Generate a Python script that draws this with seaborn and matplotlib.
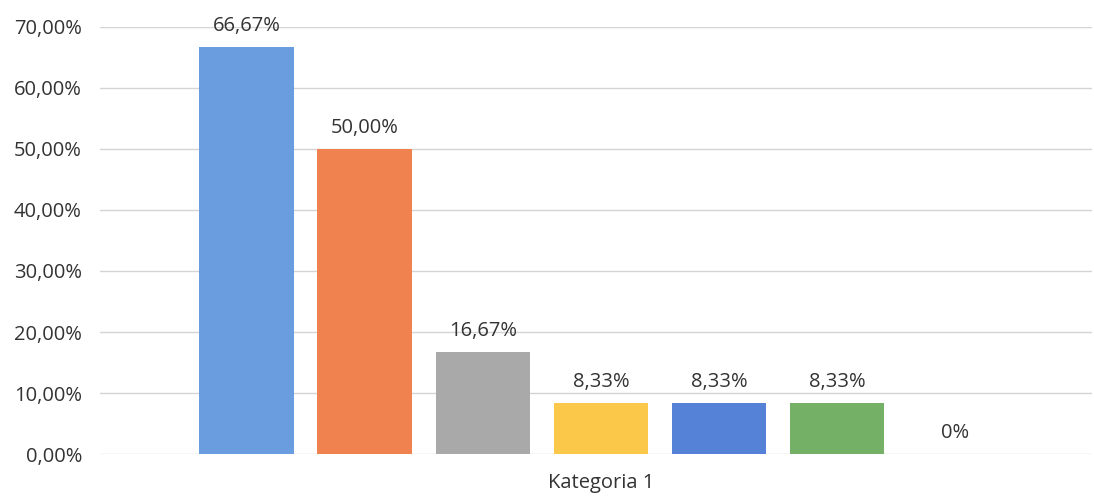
import matplotlib
matplotlib.use("Agg")
import matplotlib.pyplot as plt
import seaborn as sns
import pandas as pd
from matplotlib.ticker import FuncFormatter

categories = ["Kategoria 1"] * 7
series = ["Seria 1", "Seria 2", "Seria 3", "Seria 4", "Seria 5", "Seria 6", "Seria 7"]
values = [66.67, 50.00, 16.67, 8.33, 8.33, 8.33, 0.0]
value_labels = ["66,67%", "50,00%", "16,67%", "8,33%", "8,33%", "8,33%", "0%"]
colors = ["#6a9de0", "#f0824f", "#a9a9a9", "#fcc84a", "#5582d6", "#74b066", "#ffffff"]
y_ticks = [0, 10, 20, 30, 40, 50, 60, 70]

df = pd.DataFrame({"Kategoria": categories, "Seria": series, "Wartość": values})

sns.set_theme(style="white")
plt.rcParams["font.family"] = ["Open Sans", "DejaVu Sans"]

fig = plt.figure(figsize=(10.94, 4.97), dpi=100)
ax = fig.add_axes([0.0914, 0.0865, 0.9066, 0.8592])

sns.barplot(data=df, x="Kategoria", y="Wartość", hue="Seria", palette=colors,
            width=1.0, gap=0.2, legend=False, ax=ax, saturation=1, linewidth=0)

for cont, lab in zip(ax.containers, value_labels):
    ax.bar_label(cont, labels=[lab], padding=8, fontsize=14.5, color="#333333")

ax.set_ylim(0, 70)
ax.set_xlim(-0.606, 0.594)
ax.set_yticks(y_ticks)
ax.yaxis.set_major_formatter(FuncFormatter(lambda v, p: f"{v:.2f}".replace(".", ",") + "%"))
ax.yaxis.grid(True, color="#d4d4d4", linewidth=1)
ax.set_axisbelow(True)
for s in ax.spines.values():
    s.set_visible(False)
ax.tick_params(axis="y", labelsize=14.5, labelcolor="#333333", pad=13, length=0)
ax.tick_params(axis="x", labelsize=14.5, labelcolor="#333333", pad=14, length=0)
ax.set_xlabel("")
ax.set_ylabel("")

fig.savefig("out.png", dpi=100)
